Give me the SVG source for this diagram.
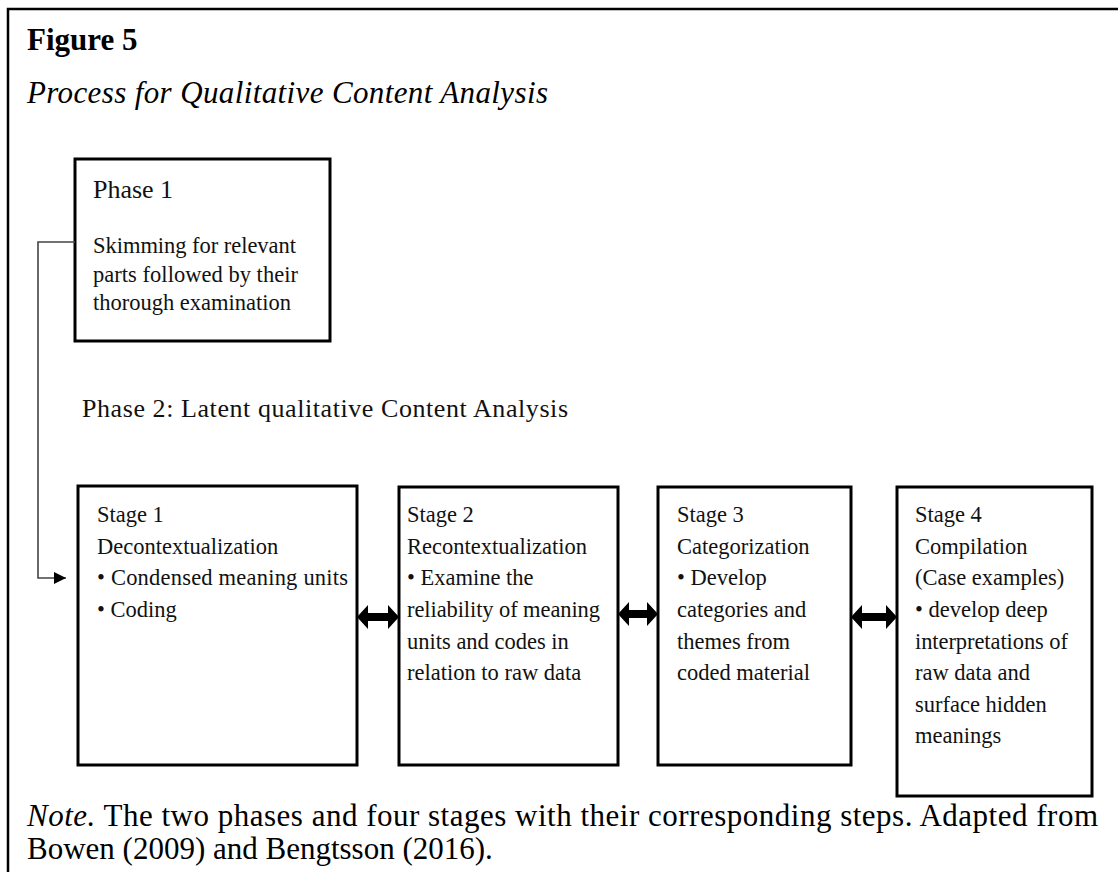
<svg xmlns="http://www.w3.org/2000/svg" width="1118" height="872" viewBox="0 0 1118 872">
  <style>
    .frame { stroke: #000; stroke-width: 2.5; fill: none; }
    .box { fill: #fff; stroke: #000; stroke-width: 3; }
    .cap { font-family: "Liberation Serif", "Times New Roman", serif; font-size: 31px; fill: #000; }
    .t { font-family: "Liberation Serif", "Times New Roman", serif; font-size: 22.5px; fill: #111; }
    .h { font-family: "Liberation Serif", "Times New Roman", serif; font-size: 26px; fill: #111; }
    .dbl { fill: #000; }
    .link { fill: none; stroke: #444; stroke-width: 1.6; }
  </style>
  <defs>
    <marker id="tri" viewBox="0 0 12 12" refX="12" refY="6" markerWidth="12" markerHeight="12" markerUnits="userSpaceOnUse" orient="auto">
      <path d="M0,0 L12,6 L0,12 Z" fill="#000"/>
    </marker>
  </defs>
  <rect width="1118" height="872" fill="#fff"/>

  <!-- page frame: top and left rules -->
  <path class="frame" d="M8,872 L8,9 L1118,9"/>

  <!-- caption -->
  <text class="cap" x="27" y="50" font-weight="bold" font-size="29">Figure 5</text>
  <text class="cap" x="27" y="103" font-style="italic" font-size="32" textLength="521">Process for Qualitative Content Analysis</text>

  <g id="phase1">
    <rect class="box" x="75" y="159" width="255" height="182"/>
    <text class="h" x="93" y="198" textLength="80">Phase 1</text>
    <text class="t" x="93" y="253" textLength="203">Skimming for relevant</text>
    <text class="t" x="93" y="282" textLength="205">parts followed by their</text>
    <text class="t" x="93" y="310" textLength="198">thorough examination</text>
  </g>

  <g id="phase2-label">
    <text class="h" x="82" y="417" textLength="486">Phase 2: Latent qualitative Content Analysis</text>
  </g>

  <g id="stage1">
    <rect class="box" x="78" y="486" width="279" height="279"/>
    <text class="t" x="97" y="522">Stage 1</text>
    <text class="t" x="97" y="554">Decontextualization</text>
    <text class="t" x="97" y="585" textLength="251">• Condensed meaning units</text>
    <text class="t" x="97" y="617">• Coding</text>
  </g>

  <g id="stage2">
    <rect class="box" x="399" y="487" width="219" height="278"/>
    <text class="t" x="407" y="522">Stage 2</text>
    <text class="t" x="407" y="554">Recontextualization</text>
    <text class="t" x="407" y="585">• Examine the</text>
    <text class="t" x="407" y="617" textLength="193">reliability  of meaning</text>
    <text class="t" x="407" y="649">units and codes in</text>
    <text class="t" x="407" y="680">relation to raw data</text>
  </g>

  <g id="stage3">
    <rect class="box" x="658" y="487" width="193" height="278"/>
    <text class="t" x="677" y="522">Stage 3</text>
    <text class="t" x="677" y="554">Categorization</text>
    <text class="t" x="677" y="585">• Develop</text>
    <text class="t" x="677" y="617">categories and</text>
    <text class="t" x="677" y="649">themes from</text>
    <text class="t" x="677" y="680">coded material</text>
  </g>

  <g id="stage4">
    <rect class="box" x="897" y="487" width="195" height="309"/>
    <text class="t" x="915" y="522">Stage 4</text>
    <text class="t" x="915" y="554">Compilation</text>
    <text class="t" x="915" y="585">(Case examples)</text>
    <text class="t" x="915" y="617">• develop deep</text>
    <text class="t" x="915" y="649" textLength="153">interpretations of</text>
    <text class="t" x="915" y="680">raw data and</text>
    <text class="t" x="915" y="712">surface hidden</text>
    <text class="t" x="915" y="743">meanings</text>
  </g>

  <g id="connectors">
    <polyline class="link" points="75,242 38,242 38,578 66,578" marker-end="url(#tri)"/>
    <polygon class="dbl" points="357,617 368,605 368,613 388,613 388,605 399,617 388,629 388,621 368,621 368,629"/>
    <polygon class="dbl" points="618,614 629,602 629,610 647,610 647,602 658,614 647,626 647,618 629,618 629,626"/>
    <polygon class="dbl" points="851,617 862,605 862,613 886,613 886,605 897,617 886,629 886,621 862,621 862,629"/>
  </g>

  <!-- note under the figure -->
  <text class="cap" x="27" y="826" textLength="1071"><tspan font-style="italic">Note.</tspan> The two phases and four stages with their corresponding steps. Adapted from</text>
  <text class="cap" x="27" y="859">Bowen (2009) and Bengtsson (2016).</text>
</svg>
